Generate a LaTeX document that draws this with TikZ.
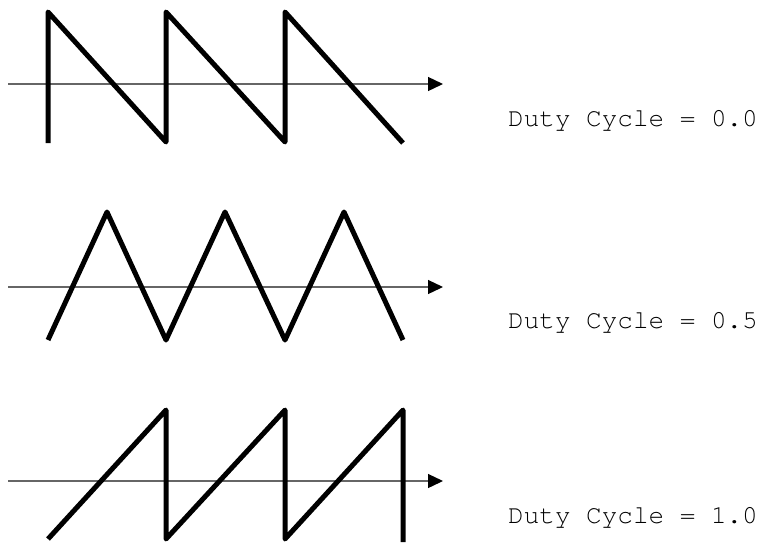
\documentclass[tikz,border=0pt]{standalone}
\usepackage{fontspec}
\setmonofont{TeX Gyre Cursor}
\usetikzlibrary{arrows.meta}
\begin{document}
\begin{tikzpicture}[x=1pt,y=-1pt,
  wave/.style={line width=5pt,line join=round,line cap=butt,draw=black},
  axisline/.style={line width=1.3pt,draw=black!60,-{Triangle[length=15pt,width=14pt,black]}},
  dutylabel/.style={anchor=base west,inner sep=0pt,font=\ttfamily\fontsize{26}{30}\selectfont}]
\fill[white] (0,0) rectangle (767,542);
\useasboundingbox (0,0) rectangle (767,542);
% axes
\coordinate (a1s) at (8,84);  \coordinate (a1e) at (443,84);
\coordinate (a2s) at (8,287); \coordinate (a2e) at (443,287);
\coordinate (a3s) at (8,481); \coordinate (a3e) at (443,481);
\draw[axisline] (a1s) -- (a1e);
\draw[axisline] (a2s) -- (a2e);
\draw[axisline] (a3s) -- (a3e);
% duty cycle 0.0
\draw[wave] (48,143) -- (48,12) -- (166,142) -- (166,12) -- (285,142) -- (285,12) -- (403,143);
% duty cycle 0.5
\draw[wave] (48,340) -- (107,212) -- (166,340) -- (225,212) -- (285,340) -- (344,212) -- (403,340);
% duty cycle 1.0
\draw[wave] (48,539) -- (166,410) -- (166,539) -- (285,410) -- (285,539) -- (403,410) -- (403,542);
% labels
\node[dutylabel] (t1) at (508,126) {Duty Cycle = 0.0};
\node[dutylabel] (t2) at (508,328) {Duty Cycle = 0.5};
\node[dutylabel] (t3) at (508,523) {Duty Cycle = 1.0};
\end{tikzpicture}
\end{document}
